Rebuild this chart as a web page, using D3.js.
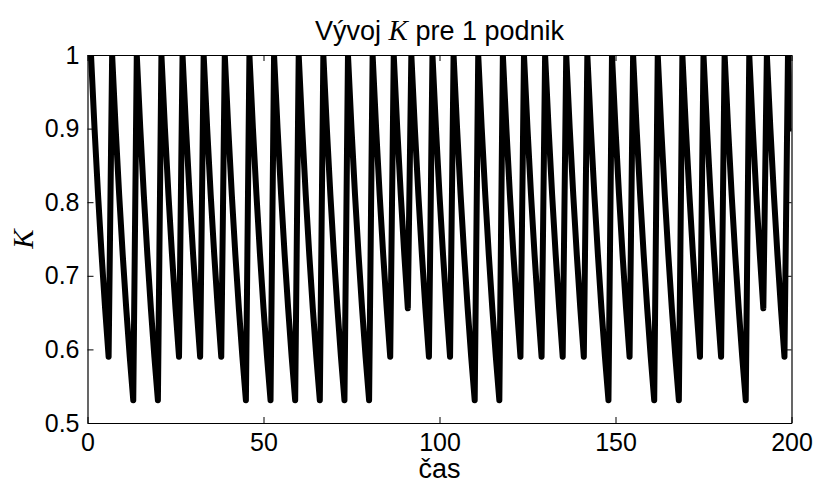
<!DOCTYPE html>
<html>
<head>
<meta charset="utf-8">
<script src="https://cdn.jsdelivr.net/npm/d3@7"></script>
<style>
  html, body { margin: 0; padding: 0; background: #fff; }
  svg { display: block; }
  text { font-family: "Liberation Sans", Arial, Helvetica, sans-serif; fill: #000; }
  .math { font-family: "Liberation Serif", "DejaVu Serif", serif; font-style: italic; }
</style>
</head>
<body>
<svg id="chart" width="816" height="490"></svg>
<script>
// K over time for one firm: drops each period, resets to 1
const kValues = [
  1, 0.9, 0.81, 0.729, 0.656, 0.59,
  1, 0.9, 0.81, 0.729, 0.656, 0.59, 0.531,
  1, 0.9, 0.81, 0.729, 0.656, 0.59, 0.531,
  1, 0.9, 0.81, 0.729, 0.656, 0.59,
  1, 0.9, 0.81, 0.729, 0.656, 0.59,
  1, 0.9, 0.81, 0.729, 0.656, 0.59,
  1, 0.9, 0.81, 0.729, 0.656, 0.59, 0.531,
  1, 0.9, 0.81, 0.729, 0.656, 0.59, 0.531,
  1, 0.9, 0.81, 0.729, 0.656, 0.59, 0.531,
  1, 0.9, 0.81, 0.729, 0.656, 0.59, 0.531,
  1, 0.9, 0.81, 0.729, 0.656, 0.59, 0.531,
  1, 0.9, 0.81, 0.729, 0.656, 0.59, 0.531,
  1, 0.9, 0.81, 0.729, 0.656, 0.59,
  1, 0.9, 0.81, 0.729, 0.656,
  1, 0.9, 0.81, 0.729, 0.656, 0.59,
  1, 0.9, 0.81, 0.729, 0.656, 0.59,
  1, 0.9, 0.81, 0.729, 0.656, 0.59, 0.531,
  1, 0.9, 0.81, 0.729, 0.656, 0.59, 0.531,
  1, 0.9, 0.81, 0.729, 0.656, 0.59,
  1, 0.9, 0.81, 0.729, 0.656, 0.59,
  1, 0.9, 0.81, 0.729, 0.656, 0.59,
  1, 0.9, 0.81, 0.729, 0.656, 0.59,
  1, 0.9, 0.81, 0.729, 0.656, 0.59, 0.531,
  1, 0.9, 0.81, 0.729, 0.656, 0.59,
  1, 0.9, 0.81, 0.729, 0.656, 0.59, 0.531,
  1, 0.9, 0.81, 0.729, 0.656, 0.59, 0.531,
  1, 0.9, 0.81, 0.729, 0.656, 0.59,
  1, 0.9, 0.81, 0.729, 0.656, 0.59,
  1, 0.9, 0.81, 0.729, 0.656, 0.59, 0.531,
  1, 0.9, 0.81, 0.729, 0.656,
  1, 0.9, 0.81, 0.729, 0.656, 0.59,
  1, 0.9
];
// time steps 1..200
const timeSteps = kValues.map((_, i) => i + 1);

const xTicks = [0, 50, 100, 150, 200];
const yTicks = [0.5, 0.6, 0.7, 0.8, 0.9, 1];
const yTickLabels = ["0.5", "0.6", "0.7", "0.8", "0.9", "1"];

const svg = d3.select("#chart");
const plotLeft = 87.5, plotRight = 791.5, plotTop = 55, plotBottom = 423;

const x = d3.scaleLinear().domain([0, 200]).range([plotLeft, plotRight]);
const y = d3.scaleLinear().domain([0.5, 1]).range([plotBottom, plotTop]);

svg.append("defs").append("clipPath").attr("id", "plotClip")
  .append("rect")
  .attr("x", plotLeft).attr("y", plotTop)
  .attr("width", plotRight - plotLeft).attr("height", plotBottom - plotTop);

// data line
const line = d3.line()
  .x((d, i) => x(timeSteps[i]))
  .y(d => y(d));

svg.append("path")
  .datum(kValues)
  .attr("clip-path", "url(#plotClip)")
  .attr("fill", "none")
  .attr("stroke", "#000")
  .attr("stroke-width", 6)
  .attr("stroke-linejoin", "round")
  .attr("stroke-linecap", "round")
  .attr("d", line);

// axes with inward ticks on all four sides
const tickLen = 6;
const tickFont = 25;
const labelFont = 27;

const gBottom = svg.append("g").attr("transform", `translate(0,${plotBottom})`)
  .call(d3.axisBottom(x).tickValues(xTicks).tickSizeInner(-tickLen).tickSizeOuter(0).tickPadding(10).tickFormat(d3.format("d")));
const gTop = svg.append("g").attr("transform", `translate(0,${plotTop})`)
  .call(d3.axisTop(x).tickValues(xTicks).tickSizeInner(-tickLen).tickSizeOuter(0).tickFormat(""));
const gLeft = svg.append("g").attr("transform", `translate(${plotLeft},0)`)
  .call(d3.axisLeft(y).tickValues(yTicks).tickSizeInner(-tickLen).tickSizeOuter(0).tickPadding(8)
    .tickFormat((d, i) => yTickLabels[i]));
const gRight = svg.append("g").attr("transform", `translate(${plotRight},0)`)
  .call(d3.axisRight(y).tickValues(yTicks).tickSizeInner(-tickLen).tickSizeOuter(0).tickFormat(""));

[gBottom, gTop, gLeft, gRight].forEach(g => {
  g.select(".domain").attr("stroke", "#000").attr("stroke-width", 1.2);
  g.selectAll(".tick line").attr("stroke", "#000").attr("stroke-width", 1);
  g.selectAll(".tick text")
    .attr("font-family", "'Liberation Sans', Arial, sans-serif")
    .attr("font-size", tickFont)
    .attr("fill", "#000");
});

// title
const title = svg.append("text")
  .attr("x", (plotLeft + plotRight) / 2)
  .attr("y", 40)
  .attr("text-anchor", "middle")
  .attr("font-size", labelFont);
title.append("tspan").text("Vývoj ");
title.append("tspan").attr("class", "math").attr("font-size", 29).text("K");
title.append("tspan").text(" pre 1 podnik");

// x label
svg.append("text")
  .attr("x", (plotLeft + plotRight) / 2)
  .attr("y", 478)
  .attr("text-anchor", "middle")
  .attr("font-size", labelFont)
  .text("čas");

// y label
svg.append("text")
  .attr("class", "math")
  .attr("transform", `translate(33,${(plotTop + plotBottom) / 2}) rotate(-90)`)
  .attr("text-anchor", "middle")
  .attr("font-size", 29)
  .text("K");
</script>
</body>
</html>
